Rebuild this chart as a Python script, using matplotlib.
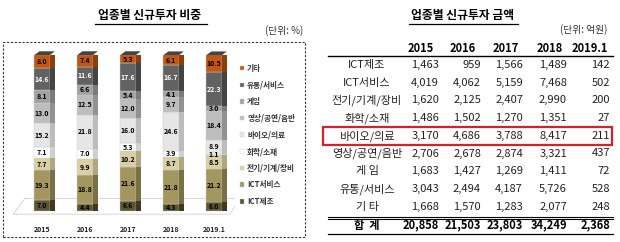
import numpy as np
import matplotlib
matplotlib.use("Agg")
import matplotlib.pyplot as plt
from matplotlib.patches import Rectangle, Polygon

plt.rcParams['font.family'] = ['Noto Sans CJK KR', 'DejaVu Sans']

# ---- data ----
years = ['2015', '2016', '2017', '2018', '2019.1']
sectors = ['ICT제조', 'ICT서비스', '전기/기계/장비', '화학/소재', '바이오/의료',
           '영상/공연/음반', '게임', '유통/서비스', '기타']
share_ict_mfg = [7.0, 4.4, 6.6, 4.3, 6.0]
share_ict_svc = [19.3, 18.8, 21.6, 21.8, 21.2]
share_elec = [7.7, 9.9, 10.2, 8.7, 8.5]
share_chem = [7.1, 7.0, 5.3, 3.9, 1.1]
share_bio = [15.2, 21.8, 16.0, 24.6, 8.9]
share_media = [13.0, 12.5, 12.0, 9.7, 18.4]
share_game = [8.1, 6.6, 5.4, 4.1, 3.0]
share_dist = [14.6, 11.6, 17.6, 16.7, 22.3]
share_etc = [8.0, 7.4, 5.3, 6.1, 10.5]
shares = [share_ict_mfg, share_ict_svc, share_elec, share_chem, share_bio,
          share_media, share_game, share_dist, share_etc]

table_rows = ['ICT제조', 'ICT서비스', '전기/기계/장비', '화학/소재', '바이오/의료',
              '영상/공연/음반', '게 임', '유통/서비스', '기 타']
amt_2015 = [1463, 4019, 1620, 1486, 3170, 2706, 1683, 3043, 1668]
amt_2016 = [959, 4062, 2125, 1502, 4686, 2678, 1427, 2494, 1570]
amt_2017 = [1566, 5159, 2407, 1270, 3788, 2874, 1269, 4187, 1283]
amt_2018 = [1489, 7468, 2990, 1351, 8417, 3321, 1411, 5726, 2077]
amt_2019 = [142, 502, 200, 27, 211, 437, 72, 528, 248]
totals = [20858, 21503, 23803, 34249, 2368]

colors = ['#5b5532', '#a3965f', '#d9d0a6', '#ffffff', '#e6e6e6',
          '#bdbdbd', '#a2a2a2', '#626262', '#c2570f']
side_colors = ['#3e3a20', '#7a7045', '#b0a780', '#d0d0d0', '#bcbcbc',
               '#929292', '#7c7c7c', '#444444', '#8e3e08']
text_colors = ['black', 'black', 'black', 'black', 'black',
               'black', 'black', 'white', 'black']

W, H = 620, 242
fig = plt.figure(figsize=(W / 100, H / 100), dpi=100)

# ---- left: stacked bar chart ----
fig.text(150 / W, 1 - 16 / H, '업종별 신규투자 비중', ha='center', va='center',
         fontsize=8.5, fontweight='bold')
fig.add_artist(plt.Line2D([95 / W, 207 / W], [1 - 24 / H, 1 - 24 / H], color='black', lw=0.9))
fig.text(303 / W, 1 - 31 / H, '(단위: %)', ha='right', va='center', fontsize=7, color='#333333')
fig.add_artist(Rectangle((3 / W, 1 - 237 / H), 302 / W, 195 / H, fill=False,
                         ls=(0, (2, 1.5)), lw=0.8, ec='#333333'))

ax = fig.add_axes([10 / W, 18.5 / H, 225 / W, 173 / H])
x = np.arange(len(years))
bw, sw = 0.36, 0.12
bottom = np.zeros(len(years))
handles = []
for vals, c, sc, tc, name in zip(shares, colors, side_colors, text_colors, sectors):
    vals = np.array(vals)
    b = ax.bar(x, vals, bw, bottom=bottom, color=c, edgecolor='#cccccc', lw=0.3, label=name)
    ax.bar(x + bw / 2 + sw / 2, vals, sw, bottom=bottom, color=sc, lw=0)
    handles.append(b)
    for xi, v, b0 in zip(x, vals, bottom):
        ax.text(xi, b0 + v / 2, f'{v:.1f}', ha='center', va='center',
                fontsize=5, fontweight='bold', color=tc)
    bottom += vals
# top face of bars
for xi, top in zip(x, bottom):
    ax.add_patch(Polygon([(xi - bw / 2, top), (xi + bw / 2, top),
                          (xi + bw / 2 + sw, top + 2.5), (xi - bw / 2 + sw, top + 2.5)],
                         closed=True, fc='#444444', ec='none'))
# floor plane
ax.add_patch(Polygon([(-0.67, -2), (4.37, -2), (4.6, 8), (-0.4, 8)], closed=True,
                     fc='none', ec='#d0d0d0', lw=0.6, zorder=0))
ax.set_xlim(-0.744, 4.49)
ax.set_ylim(-8, 103)
ax.axis('off')
for xi, yr in zip(x, years):
    ax.text(xi, -12, yr, ha='center', va='center', fontsize=5, fontweight='bold', color='#222222')

leg = fig.legend(handles[::-1], sectors[::-1], loc='upper left',
                 bbox_to_anchor=(233 / W, 1 - 57 / H), frameon=False, fontsize=5.5,
                 handlelength=0.55, handleheight=0.55, handletextpad=0.4, labelspacing=1.0)
for t in leg.get_texts():
    t.set_fontweight('bold')
    t.set_color('#333333')

# ---- right: table ----
fig.text(463 / W, 1 - 16 / H, '업종별 신규투자 금액', ha='center', va='center',
         fontsize=8.5, fontweight='bold')
fig.add_artist(plt.Line2D([409 / W, 518 / W], [1 - 24 / H, 1 - 24 / H], color='black', lw=0.9))
fig.text(607 / W, 1 - 30 / H, '(단위: 억원)', ha='right', va='center', fontsize=7, color='#333333')

col_right = [439, 481, 523, 567, 610]
head_center = [421, 463, 506, 550, 590]
header_y = 48
for cx, yr in zip(head_center, years):
    fig.text(cx / W, 1 - header_y / H, yr, ha='center', va='center',
             fontsize=8, fontweight='bold')
fig.add_artist(plt.Line2D([328 / W, 613 / W], [1 - 55.5 / H] * 2, color='black', lw=1.0))

columns = [amt_2015, amt_2016, amt_2017, amt_2018, amt_2019]
row_y0, dy = 65, 17.7
for i, name in enumerate(table_rows):
    yy = 1 - (row_y0 + i * dy) / H
    fig.text(367 / W, yy, name, ha='center', va='center', fontsize=8, color='#222222')
    for cx, col in zip(col_right, columns):
        fig.text(cx / W, yy, f'{col[i]:,}', ha='right', va='center', fontsize=8, color='#222222')
fig.add_artist(plt.Line2D([328 / W, 613 / W], [1 - 216.5 / H] * 2, color='black', lw=0.8))
fig.add_artist(plt.Line2D([328 / W, 613 / W], [1 - 218.5 / H] * 2, color='black', lw=0.8))
yy = 1 - 225 / H
fig.text(367 / W, yy, '합  계', ha='center', va='center', fontsize=8, fontweight='bold')
for cx, t in zip(col_right, totals):
    fig.text(cx / W, yy, f'{t:,}', ha='right', va='center', fontsize=8, fontweight='bold')
fig.add_artist(plt.Line2D([328 / W, 613 / W], [1 - 233.5 / H] * 2, color='black', lw=0.9))

# highlight bio row
bio_i = table_rows.index('바이오/의료')
ry = row_y0 + bio_i * dy
fig.add_artist(Rectangle((323 / W, 1 - (ry + 9) / H), 289 / W, 18 / H,
                         fill=False, ec='#d8202a', lw=1.6))

fig.savefig('out.png', dpi=100)
